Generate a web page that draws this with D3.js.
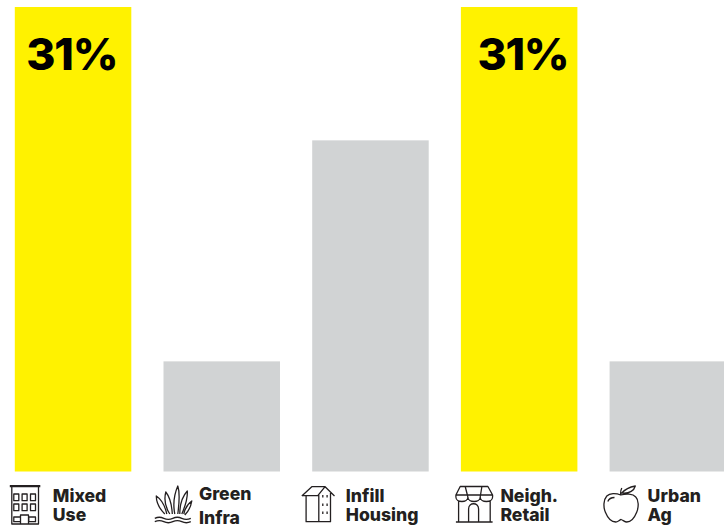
<!DOCTYPE html>
<html>
<head>
<meta charset="utf-8">
<style>
html,body{margin:0;padding:0;background:#fff}
svg{display:block}
text{font-family:Inter,"Liberation Sans",sans-serif;font-weight:800;fill:#231f20}
.icon{fill:none;stroke:#231f20;stroke-width:1.3;stroke-linecap:butt;stroke-linejoin:round}
</style>
</head>
<body>
<svg id="chart" width="724" height="529"></svg>
<script src="https://cdn.jsdelivr.net/npm/d3@7/dist/d3.min.js"></script>
<script>
// Share of projects by development type
const categories = ["Mixed Use", "Green Infra", "Infill Housing", "Neigh. Retail", "Urban Ag"];
const values = [31, 7.35, 22.1, 31, 7.35];
const valueLabels = ["31%", null, null, "31%", null];
const labelLines = [["Mixed", "Use"], ["Green", "Infra"], ["Infill", "Housing"], ["Neigh.", "Retail"], ["Urban", "Ag"]];

const chartBase = 471.5, chartTop = 7;
const colors = {highlight: "#fff200", muted: "#d1d3d4"};

const x = d3.scaleBand().domain(categories).range([14.8, 726.1]).paddingInner(0.2165).paddingOuter(0);
const y = d3.scaleLinear().domain([0, 31]).range([chartBase, chartTop]);

const svg = d3.select("#chart");

svg.selectAll("rect.bar").data(categories).join("rect")
  .attr("class", "bar")
  .attr("x", d => x(d))
  .attr("width", x.bandwidth())
  .attr("y", (d, i) => y(values[i]))
  .attr("height", (d, i) => y(0) - y(values[i]))
  .attr("fill", (d, i) => valueLabels[i] ? colors.highlight : colors.muted);

const valueInset = {"Mixed Use": 11.5, "Neigh. Retail": 16.5};
svg.selectAll("text.value").data(categories.filter((d, i) => valueLabels[i])).join("text")
  .attr("class", "value")
  .attr("x", d => x(d) + valueInset[d])
  .attr("y", 70)
  .attr("font-size", 44.5)
  .attr("letter-spacing", -1.2)
  .style("fill", "#000")
  .text(d => valueLabels[categories.indexOf(d)]);

// Line-art pictograms, drawn in a local frame whose origin is the icon's top-left corner
const icons = [
  // apartment block
  `M0 .6H30.5 M0 1.7H30.5 M2 2V39H28.700V2
   M4 9h5v6.700h-5z M12.300 9h5v6.700h-5z M20.700 9h5v6.700h-5z
   M4 19h5v6.700h-5z M12.300 19h5v6.700h-5z M20.700 19h5v6.700h-5z
   M4 32h6.700v4.700h-6.700z M19 32h6.700v4.700h-6.700z M10.700 39V30H18.700V39`,
  // reeds over water
  `M0 32.300c3-1.400 6-1.400 9 0s6 1.400 9 0 6-1.400 9 0 6 1.400 9 0
   M0 35.700c3-1.400 6-1.400 9 0s6 1.400 9 0 6-1.400 9 0 6 1.400 9 0
   M10 28C6 24 1.500 17 1.500 10C6 13 10 19 12 28
   M15 28C11 22 9 14 11 6C15 11 17 19 17.500 28
   M20 28C18 18 20 7 23 0C25 6 25 13 23 28
   M25 28C25 19 27 11 32.500 5C33 12 30 21 27 28
   M29 28C30 23 33 18 37 15C36 21 33 26 30 29`,
  // narrow townhouse in perspective
  `M0 10L10 .7H23.300L32.700 10 M0 9.700H16L23.300 .7 M4.300 10V35.700H28.700V7 M17 9V35.700
   M21 9v2.500 M25.300 9v2.500 M21 17.500v2.500 M25.300 17.500v2.500 M21 25.500v2.500 M25.300 25.500v2.500`,
  // storefront with scalloped awning
  `M4.300 .5H32L36.700 9V11C36.700 17 24.300 17 24.300 11C24.300 17 12 17 12 11C12 17 0 17 0 11V9Z
   M0 9H36.700 M9.300 .5L12 11 M26 .5L24.300 11
   M2.700 15V36 M34.300 15V36 M0 36H36.700
   M12.700 36V23C12.700 16 22.700 16 22.700 23V36`,
  // apple with leaf
  `M17 9C12 7 6 7 3 10C-.5 14 -.5 21 1.500 26C3.500 31 7 36 12 36C14 36 15.500 34 17.300 33.500C19 34 21 36 23 36C28 36 31 31 33 26C35 21 35 14 32 11C29 7.500 22 7.500 17 9Z
   M17 9C16.500 6 17 4 18 2
   M18 7C21 3.500 26 1 31.500 0C30.500 4 26 8 18 7Z
   M4 15.500C5 13 7 11.500 10.700 11.500`
];
const iconOrigins = [[-5, 485], [-8.7, 486], [-10.4, 486], [-5, 486], [-5.8, 486]];
const labelOffsets = [38, 35.5, 33.6, 39.500, 38];
const lineBaselines = [[502, 521], [500, 523.5], [502, 521], [502, 521], [502, 521]];

categories.forEach((c, i) => {
  svg.append("path").attr("class", "icon")
    .attr("transform", `translate(${x(c) + iconOrigins[i][0]},${iconOrigins[i][1]})`)
    .attr("d", icons[i]);
  labelLines[i].forEach((line, j) => {
    svg.append("text")
      .attr("x", x(c) + labelOffsets[i])
      .attr("y", lineBaselines[i][j])
      .attr("font-size", 17.6)
      .text(line);
  });
});
</script>
</body>
</html>
